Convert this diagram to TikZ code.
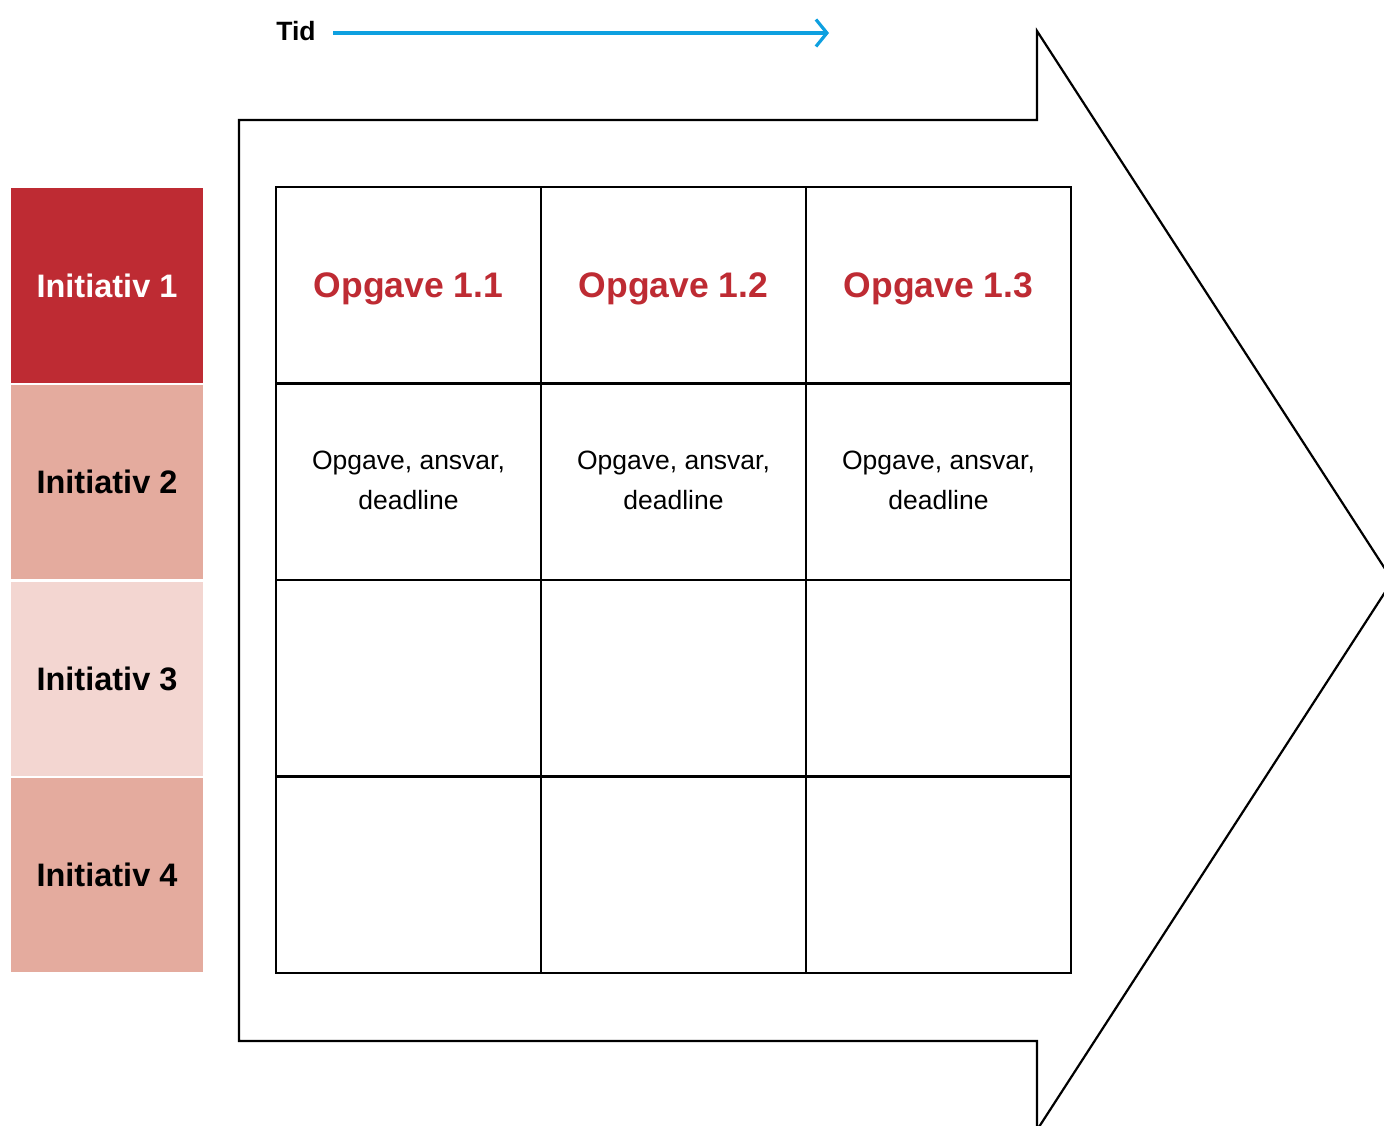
\documentclass[tikz,border=0pt]{standalone}
\usepackage{fontspec}
\setmainfont{Liberation Sans}
\usetikzlibrary{arrows.meta}
\definecolor{redA}{HTML}{BE2B33}
\definecolor{pinkB}{HTML}{E4AB9E}
\definecolor{pinkC}{HTML}{F3D6D1}
\definecolor{blueT}{HTML}{0EA0E0}
\tikzset{
  initbox/.style={minimum width=192pt, minimum height=194pt, inner sep=0pt, outer sep=0pt,
    font=\fontsize{32.5}{36}\selectfont\bfseries},
  cell/.style={draw=black, line width=2.5pt, minimum width=265pt, minimum height=196.5pt,
    inner sep=0pt, outer sep=0pt, anchor=north west, align=center},
  headtxt/.style={font=\fontsize{35.5}{40}\selectfont\bfseries, text=redA},
  bodytxt/.style={font=\fontsize{26.5}{40}\selectfont},
}
\begin{document}
\begin{tikzpicture}[x=1pt,y=-1pt]
\useasboundingbox (0,0) rectangle (1384,1126);
\clip (0,0) rectangle (1384,1126);
% big arrow
\draw[line width=2.2pt, line join=miter]
  (239,120) -- (1037,120) -- (1037,31) -- (1392.6,580.5) -- (1037,1130) -- (1037,1041) -- (239,1041) -- cycle;
% time arrow
\node[anchor=center, font=\fontsize{26.5}{30}\selectfont\bfseries, inner sep=0pt] (tid) at (296,31) {Tid};
\coordinate (tidS) at (333,33);
\coordinate (tidE) at (829,33);
\draw[blueT, line width=3.2pt, -{Straight Barb[length=11pt,width=27pt]}] (tidS) -- (tidE);
% initiatives
\node[initbox, fill=redA, text=white] (i1) at (107,285.5) {Initiativ 1};
\node[initbox, fill=pinkB] (i2) at (107,482) {Initiativ 2};
\node[initbox, fill=pinkC] (i3) at (107,679) {Initiativ 3};
\node[initbox, fill=pinkB] (i4) at (107,875) {Initiativ 4};
% grid
\foreach \c/\x in {1/276,2/541,3/806}{
  \foreach \r/\y in {1/187,2/383.5,3/580,4/776.5}{
    \node[cell] (c\r\c) at (\x,\y) {};
  }
}
\node[headtxt] (h1) at ([yshift=-3.5pt]c11.center) {Opgave 1.1};
\node[headtxt] (h2) at ([yshift=-3.5pt]c12.center) {Opgave 1.2};
\node[headtxt] (h3) at ([yshift=-3.5pt]c13.center) {Opgave 1.3};
\node[bodytxt, align=center] (b1) at ([yshift=1pt]c21.center) {Opgave, ansvar,\\deadline};
\node[bodytxt, align=center] (b2) at ([yshift=1pt]c22.center) {Opgave, ansvar,\\deadline};
\node[bodytxt, align=center] (b3) at ([yshift=1pt]c23.center) {Opgave, ansvar,\\deadline};
\end{tikzpicture}
\end{document}
